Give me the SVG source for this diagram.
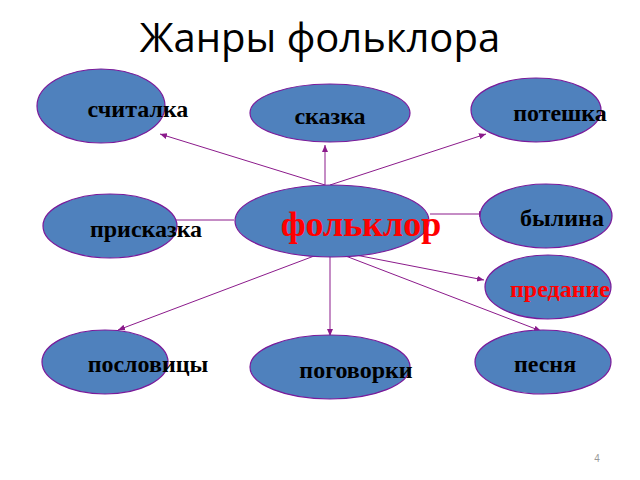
<svg xmlns="http://www.w3.org/2000/svg" width="640" height="480" viewBox="0 0 640 480">
<style>
.n{fill:#4f81bd;stroke:#7a1a9a;stroke-width:1.2}
.t{font-family:"Liberation Serif",serif;font-weight:bold;font-size:24px;fill:#000}
.c line{stroke:#8b1a8b;stroke-width:1}
</style>
<defs><marker id="a" markerWidth="8" markerHeight="8" refX="7" refY="4" orient="auto" markerUnits="userSpaceOnUse"><path d="M0,1L7,4L0,7z" fill="#8b1a8b"/></marker></defs>
<rect width="640" height="480" fill="#fff"/>
<text x="320" y="52" text-anchor="middle" font-family="'Open Sans','DejaVu Sans',sans-serif" font-size="40" fill="#000">Жанры фольклора</text>
<g class="c">
<line x1="325" y1="185" x2="160" y2="134" marker-end="url(#a)"/>
<line x1="325" y1="185" x2="325" y2="145" marker-end="url(#a)"/>
<line x1="330" y1="185" x2="486" y2="134" marker-end="url(#a)"/>
<line x1="234" y1="220" x2="165" y2="220" marker-end="url(#a)"/>
<line x1="430" y1="214" x2="486" y2="214" marker-end="url(#a)"/>
<line x1="330" y1="250" x2="118" y2="330" marker-end="url(#a)"/>
<line x1="330" y1="250" x2="330" y2="336" marker-end="url(#a)"/>
<line x1="330" y1="250" x2="484" y2="280" marker-end="url(#a)"/>
<line x1="330" y1="250" x2="541" y2="331" marker-end="url(#a)"/>
</g>
<g id="n1"><ellipse class="n" cx="101" cy="106" rx="64" ry="37"/><text class="t" x="138" y="117" text-anchor="middle">считалка</text></g>
<g id="n2"><ellipse class="n" cx="330" cy="113" rx="80" ry="29"/><text class="t" x="330" y="124" text-anchor="middle">сказка</text></g>
<g id="n3"><ellipse class="n" cx="536" cy="110" rx="65" ry="32"/><text class="t" x="560" y="121" text-anchor="middle">потешка</text></g>
<g id="n4"><ellipse class="n" cx="546" cy="216" rx="66" ry="32"/><text class="t" x="562" y="226" text-anchor="middle">былина</text></g>
<g id="n5"><ellipse class="n" cx="110" cy="226" rx="67" ry="32"/><text class="t" x="146" y="237" text-anchor="middle">присказка</text></g>
<g id="n6"><ellipse class="n" cx="548" cy="287" rx="63" ry="32"/><text class="t" x="510" y="297" fill="#f00" style="fill:#f00">предание</text></g>
<g id="n7"><ellipse class="n" cx="105" cy="362" rx="63" ry="32"/><text class="t" x="148" y="372" text-anchor="middle">пословицы</text></g>
<g id="n8"><ellipse class="n" cx="330" cy="367" rx="80" ry="32"/><text class="t" x="356" y="378" text-anchor="middle">поговорки</text></g>
<g id="n9"><ellipse class="n" cx="543" cy="362" rx="68" ry="32"/><text class="t" x="545" y="372" text-anchor="middle">песня</text></g>
<g id="n0"><ellipse class="n" cx="332" cy="221" rx="97" ry="36"/><text x="361" y="236" text-anchor="middle" font-family="'Liberation Serif',serif" font-weight="bold" font-size="36" fill="#f00">фольклор</text></g>
<text x="597" y="462" text-anchor="middle" font-family="'Liberation Sans',sans-serif" font-size="10" fill="#999">4</text>
</svg>
